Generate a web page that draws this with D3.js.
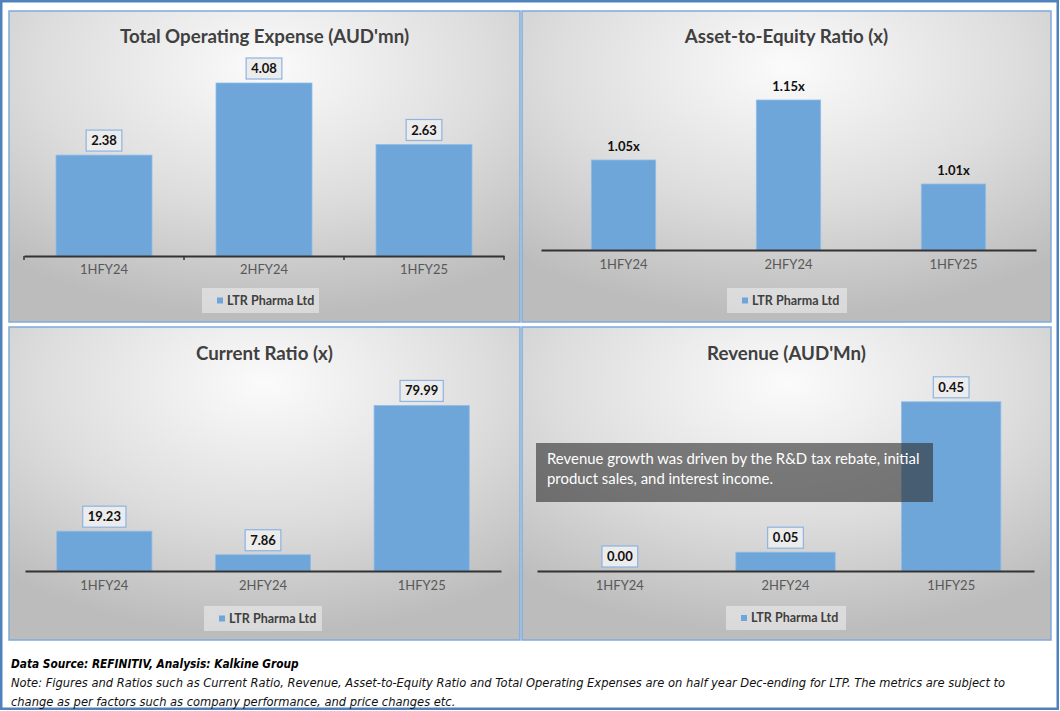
<!DOCTYPE html>
<html><head><meta charset="utf-8">
<script src="https://cdn.jsdelivr.net/npm/d3@7"></script>
<style>body{margin:0;background:#fff}svg{display:block}</style>
</head><body><svg id="c" width="1060" height="711"></svg>
<script>
// ---- data ----
const categories = ["1HFY24", "2HFY24", "1HFY25"];
const seriesName = "LTR Pharma Ltd";
const opexValues = [2.38, 4.08, 2.63];
const assetEquityValues = [1.05, 1.15, 1.01];
const currentRatioValues = [19.23, 7.86, 79.99];
const revenueValues = [0.00, 0.05, 0.45];
const panelTitles = ["Total Operating Expense (AUD'mn)", "Asset-to-Equity Ratio (x)", "Current Ratio (x)", "Revenue (AUD'Mn)"];
const annotationLines = ["Revenue growth was driven by the R&D tax rebate, initial", "product sales, and interest income."];
const footerSource = "Data Source: REFINITIV, Analysis: Kalkine Group";
const footerNote = ["Note: Figures and Ratios such as Current Ratio, Revenue, Asset-to-Equity Ratio and Total Operating Expenses are on half year Dec-ending for LTP. The metrics are subject to",
  "change as per factors such as company performance, and price changes etc."];

// ---- layout ----
const svg = d3.select("#c");
const FONT = "Lato, 'Open Sans', sans-serif";
const BAR = "#6fa6da";
const defs = svg.append("defs");
const grad = defs.append("radialGradient").attr("id", "bg").attr("cx", "50%").attr("cy", "18%").attr("r", "80%").attr("fx", "50%").attr("fy", "18%");
grad.append("stop").attr("offset", "0%").attr("stop-color", "#fbfbfb");
grad.append("stop").attr("offset", "55%").attr("stop-color", "#dddddd");
grad.append("stop").attr("offset", "100%").attr("stop-color", "#bcbcbc");

// outer border
svg.append("rect").attr("x", 1.25).attr("y", 1.25).attr("width", 1056.5).attr("height", 707.5)
  .attr("fill", "none").attr("stroke", "#4f81bd").attr("stroke-width", 2.5);

const panels = [
  {x: 9, y: 11, w: 511, h: 311, title: panelTitles[0], titleY: 36, values: opexValues, yDomain: [0, 5], axisY: 256, yTop: 44,
   xRange: [24, 504], padIn: 0.4, padOut: 0.2, boxed: true, suffix: "", ticks: true, catY: 272, legend: {x: 202, y: 288, w: 117, h: 25}},
  {x: 522, y: 11, w: 529, h: 311, title: panelTitles[1], titleY: 36, values: assetEquityValues, yDomain: [0.9, 1.2], axisY: 250, yTop: 70,
   xRange: [541, 1036], padIn: 0.61, padOut: 0.305, boxed: false, suffix: "x", ticks: false, catY: 267, legend: {x: 727, y: 288, w: 120, h: 25}},
  {x: 9, y: 327, w: 511, h: 313, title: panelTitles[2], titleY: 353, values: currentRatioValues, yDomain: [0, 90], axisY: 571, yTop: 384.7,
   xRange: [25, 501], padIn: 0.4, padOut: 0.2, boxed: true, suffix: "", ticks: false, catY: 588, legend: {x: 204, y: 606, w: 118, h: 25}},
  {x: 522, y: 327, w: 529, h: 313, title: panelTitles[3], titleY: 353, values: revenueValues, yDomain: [0, 0.5], axisY: 571, yTop: 383,
   xRange: [537, 1034], padIn: 0.4, padOut: 0.2, boxed: true, suffix: "", ticks: false, catY: 588, legend: {x: 726, y: 606, w: 120, h: 24}, annotation: true}
];

panels.forEach(p => {
  const g = svg.append("g");
  g.append("rect").attr("x", p.x).attr("y", p.y).attr("width", p.w).attr("height", p.h)
    .attr("fill", "url(#bg)").attr("stroke", "#7faadb").attr("stroke-width", 1.5);
  g.append("text").attr("x", p.x + p.w / 2).attr("y", p.titleY).attr("dy", "0.35em").attr("text-anchor", "middle")
    .attr("font-family", FONT).attr("font-weight", "bold").attr("font-size", 18.7).attr("fill", "#404040").text(p.title);

  const x = d3.scaleBand().domain(categories).range(p.xRange).paddingInner(p.padIn).paddingOuter(p.padOut);
  const y = d3.scaleLinear().domain(p.yDomain).range([p.axisY, p.yTop]);
  const data = categories.map((c, i) => ({c, v: p.values[i]}));

  g.selectAll("rect.bar").data(data).enter().append("rect").attr("class", "bar")
    .attr("x", d => x(d.c)).attr("width", x.bandwidth())
    .attr("y", d => y(d.v)).attr("height", d => p.axisY - y(d.v))
    .attr("fill", BAR).attr("stroke", "#8fbde8").attr("stroke-width", 0.8);

  // axis
  const axis = d3.axisBottom(x).tickSize(0).tickPadding(p.catY - p.axisY - 7);
  const ag = g.append("g").attr("transform", `translate(0,${p.axisY})`).call(axis);
  ag.select(".domain").attr("stroke", "#333").attr("stroke-width", 1.8);
  ag.selectAll("text").attr("font-family", FONT).attr("font-size", 13).attr("fill", "#595959");
  if (p.ticks) {
    const bounds = d3.range(categories.length + 1).map(i => p.xRange[0] + i * x.step());
    g.selectAll("line.tk").data(bounds).enter().append("line")
      .attr("x1", d => d).attr("x2", d => d).attr("y1", p.axisY).attr("y2", p.axisY + 4)
      .attr("stroke", "#333").attr("stroke-width", 1.5);
  }

  // data labels
  data.forEach(d => {
    const cx = x(d.c) + x.bandwidth() / 2;
    const txt = d.v.toFixed(2) + p.suffix;
    if (p.boxed) {
      const bottom = y(d.v) - 4;
      const box = g.append("rect");
      const t = g.append("text").attr("x", cx).attr("y", bottom - 10.5).attr("dy", "0.35em").attr("text-anchor", "middle")
        .attr("font-family", FONT).attr("font-weight", "bold").attr("font-size", 13).attr("fill", "#111").text(txt);
      const tw = t.node().getComputedTextLength();
      box.attr("x", cx - tw / 2 - 5).attr("y", bottom - 21).attr("width", tw + 10).attr("height", 21)
        .attr("fill", "#ececec").attr("stroke", "#8db4e2").attr("stroke-width", 1.2);
    } else {
      g.append("text").attr("x", cx).attr("y", y(d.v) - 14).attr("dy", "0.35em").attr("text-anchor", "middle")
        .attr("font-family", FONT).attr("font-weight", "bold").attr("font-size", 13).attr("fill", "#111").text(txt);
    }
  });

  // legend
  const L = p.legend;
  g.append("rect").attr("x", L.x).attr("y", L.y).attr("width", L.w).attr("height", L.h).attr("fill", "rgba(240,240,240,0.55)");
  g.append("rect").attr("x", L.x + 15).attr("y", L.y + L.h / 2 - 3).attr("width", 6).attr("height", 6).attr("fill", BAR);
  g.append("text").attr("x", L.x + 25).attr("y", L.y + L.h / 2).attr("dy", "0.35em")
    .attr("font-family", FONT).attr("font-weight", "bold").attr("font-size", 12.5).attr("fill", "#404040").text(seriesName);

  if (p.annotation) {
    g.append("rect").attr("x", 536).attr("y", 443).attr("width", 397).attr("height", 59).attr("fill", "rgba(45,45,45,0.6)");
    annotationLines.forEach((s, i) => {
      g.append("text").attr("x", 547).attr("y", 459 + i * 20).attr("dy", "0.35em")
        .attr("font-family", FONT).attr("font-size", 14.9).attr("fill", "#fff").text(s);
    });
  }
});

// footer (font size fitted to the reference line widths)
const FF = "'Liberation Sans Narrow', 'DejaVu Sans Condensed', sans-serif";
function fitSize(t, target) {
  const w = t.node().getComputedTextLength();
  const fs = 12.5 * target / w;
  t.attr("font-size", fs);
  return fs;
}
const src = svg.append("text").attr("x", 11).attr("y", 664).attr("dy", "0.35em").attr("font-family", FF).attr("font-style", "italic")
  .attr("font-weight", "bold").attr("font-size", 12.5).attr("fill", "#000").text(footerSource);
fitSize(src, 288);
const notes = footerNote.map((s, i) => svg.append("text").attr("x", 11).attr("y", 683 + i * 19).attr("dy", "0.35em").attr("font-family", FF)
  .attr("font-style", "italic").attr("font-size", 12.5).attr("fill", "#111").text(s));
const nfs = fitSize(notes[0], 995);
notes.forEach(t => t.attr("font-size", nfs));
</script></body></html>
